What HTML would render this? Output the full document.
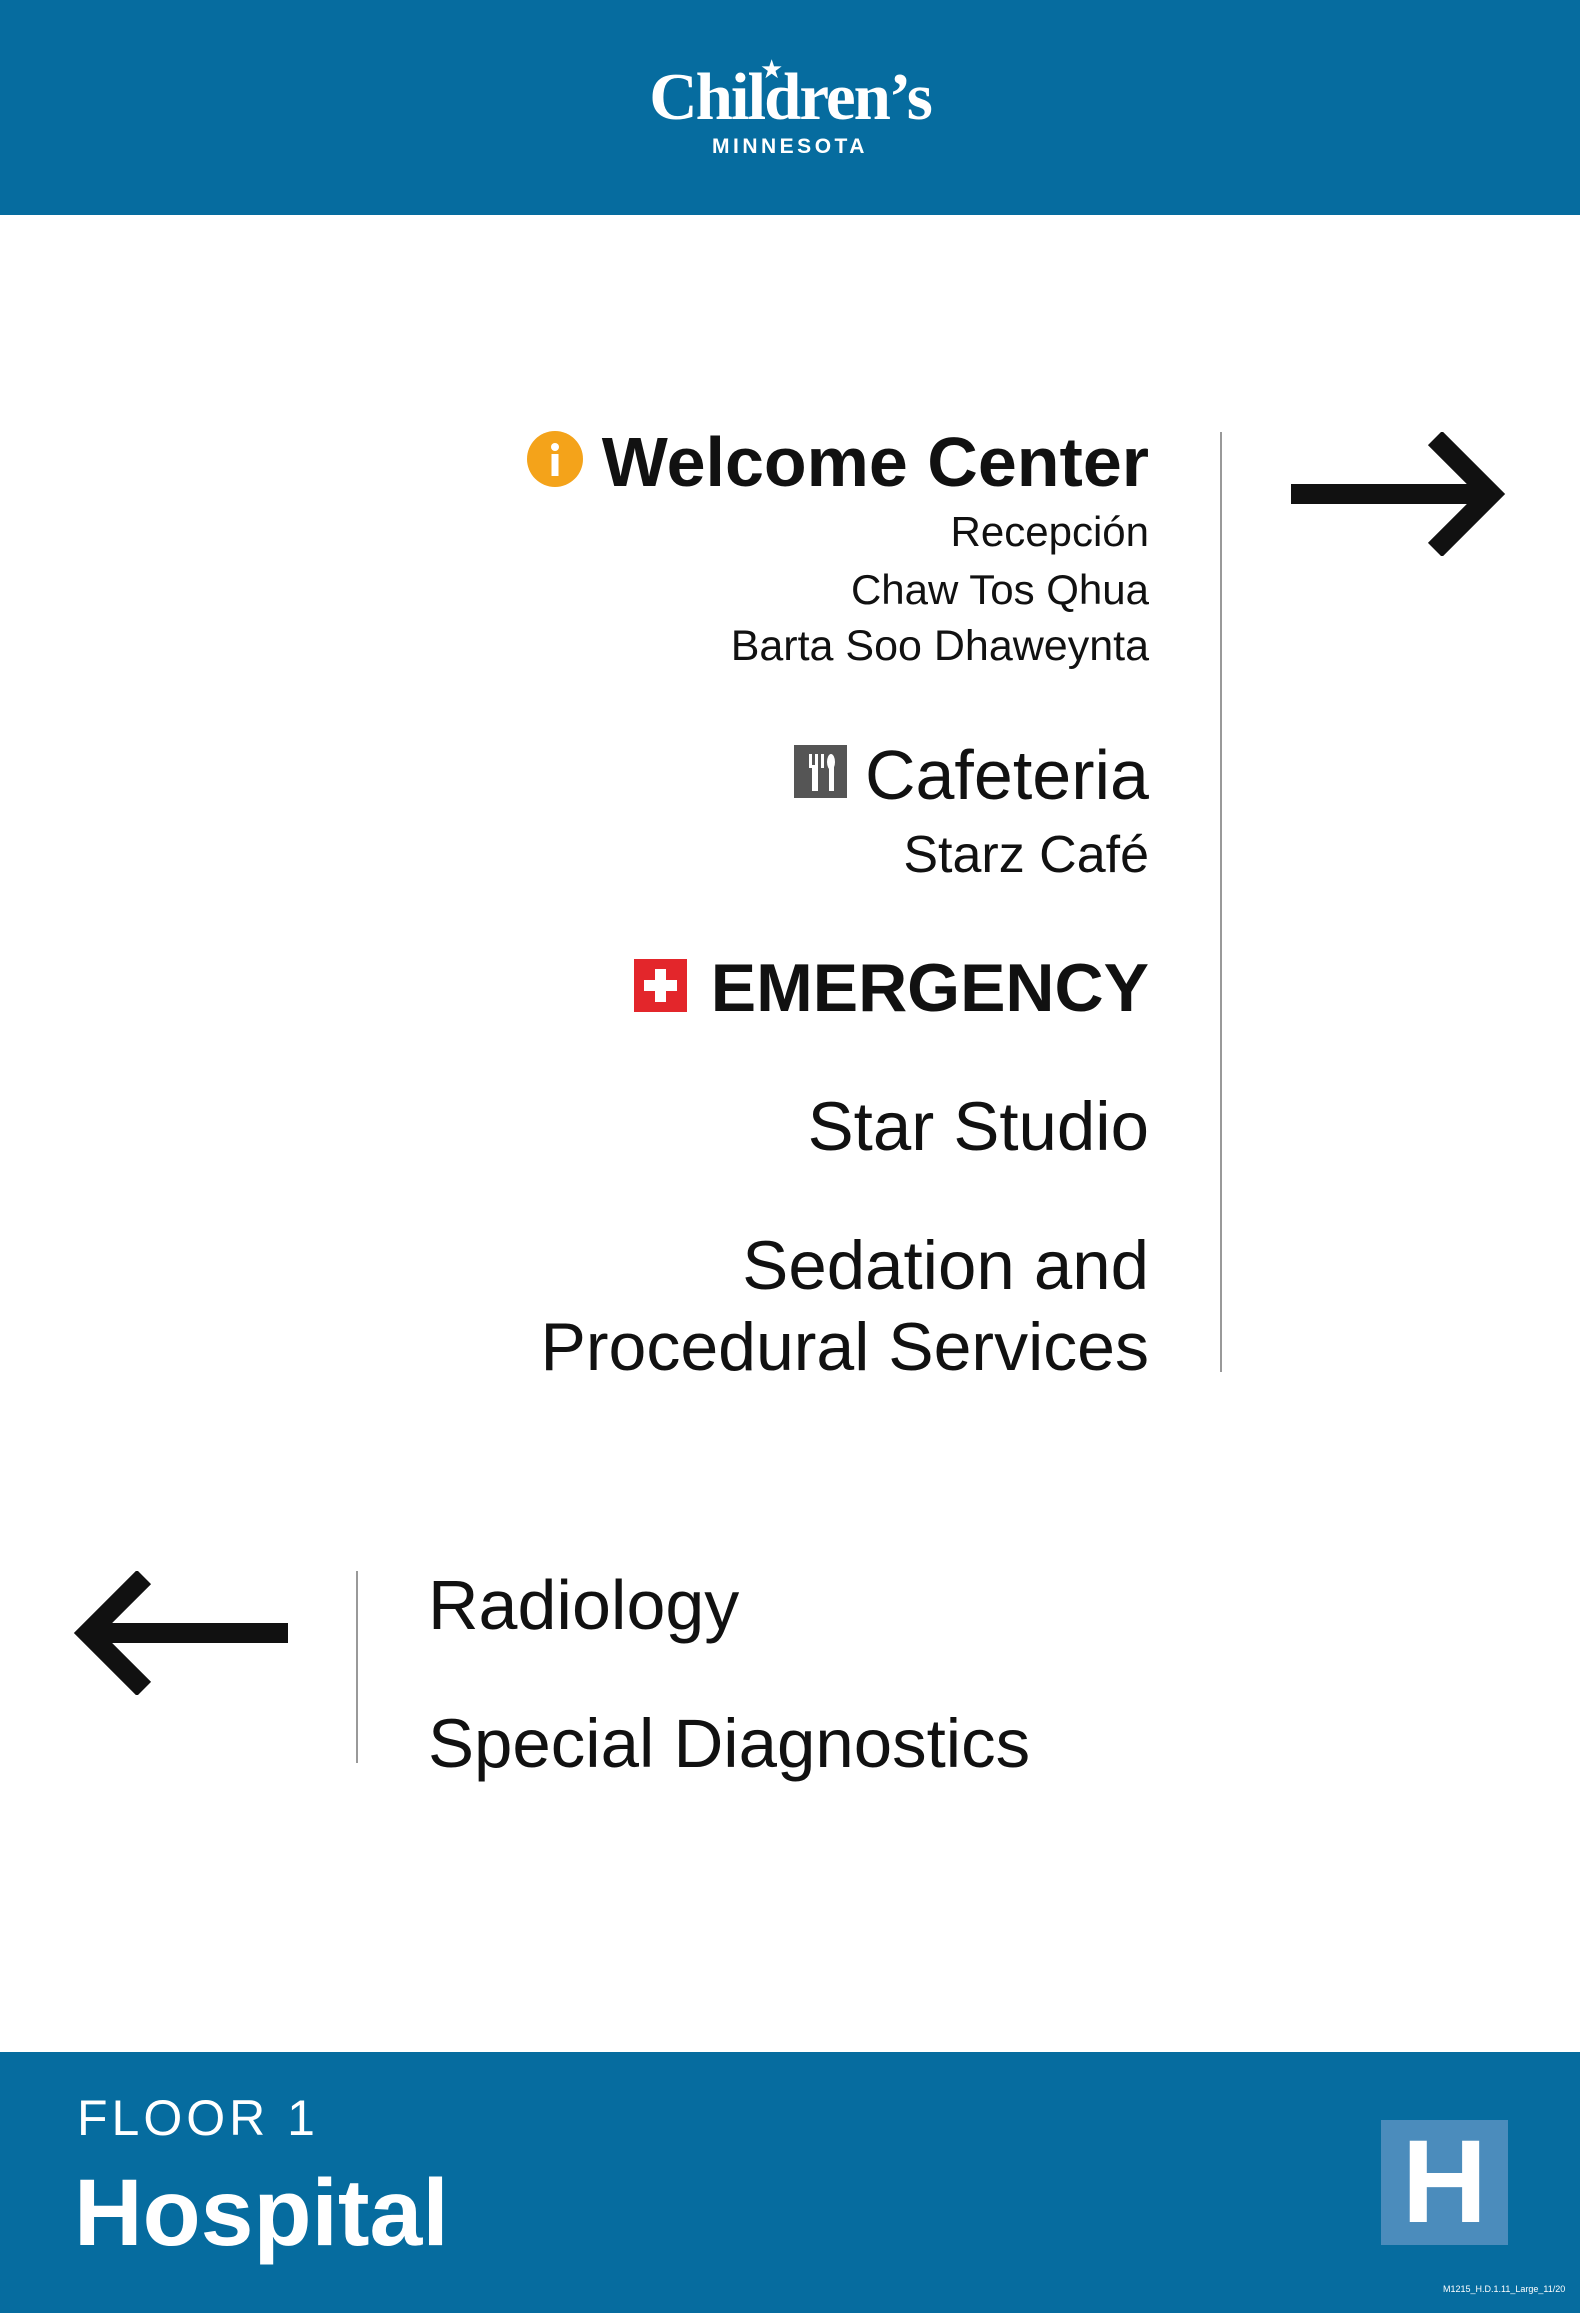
<!DOCTYPE html>
<html><head><meta charset="utf-8"><style>
html,body{margin:0;padding:0}
body{width:1580px;height:2313px;position:relative;background:#fff;font-family:"Liberation Sans",sans-serif;overflow:hidden;color:#111}
.a{position:absolute;line-height:1;white-space:nowrap}
.r{right:431px;text-align:right}
.bar{position:absolute;left:0;width:1580px;background:#066c9f}
</style></head><body>
<div class="bar" style="top:0;height:215px"></div>
<div class="a" style="left:0;width:1580px;text-align:center;top:64px;font-family:'Liberation Serif',serif;font-weight:bold;font-size:67px;color:#fff;letter-spacing:-2px">Children’s</div>
<div class="a" style="left:760px;top:56px;color:#fff;font-size:26px">★</div>
<div class="a" style="left:0;width:1580px;text-align:center;top:136px;font-weight:bold;font-size:21px;color:#fff;letter-spacing:3.5px">MINNESOTA</div>

<div class="a r" style="top:427px;font-size:70px;font-weight:bold">Welcome Center</div>
<svg class="a" style="left:527px;top:431px" width="56" height="56"><circle cx="28" cy="28" r="28" fill="#f4a31a"/><circle cx="28" cy="16" r="4" fill="#fff"/><rect x="24.5" y="23" width="7" height="22" fill="#fff"/></svg>
<div class="a r" style="top:511px;font-size:42px">Recepción</div>
<div class="a r" style="top:569px;font-size:42px">Chaw Tos Qhua</div>
<div class="a r" style="top:625px;font-size:43px">Barta Soo Dhaweynta</div>

<svg class="a" style="left:794px;top:745px" width="53" height="53"><rect width="53" height="53" fill="#555"/><rect x="15" y="9" width="3" height="14" fill="#fff"/><rect x="21" y="9" width="3" height="14" fill="#fff"/><rect x="27" y="9" width="3" height="14" fill="#fff"/><rect x="18" y="20" width="6" height="26" fill="#fff"/><ellipse cx="37" cy="17" rx="4" ry="8" fill="#fff"/><rect x="35" y="20" width="5" height="26" fill="#fff"/></svg>
<div class="a r" style="top:740px;font-size:70px">Cafeteria</div>
<div class="a r" style="top:829px;font-size:52px">Starz Café</div>

<svg class="a" style="left:634px;top:959px" width="53" height="53"><rect width="53" height="53" fill="#e3262b"/><rect x="21" y="10" width="11" height="33" fill="#fff"/><rect x="10" y="21" width="33" height="11" fill="#fff"/></svg>
<div class="a r" style="top:954px;font-size:68px;font-weight:bold">EMERGENCY</div>
<div class="a r" style="top:1092px;font-size:69px">Star Studio</div>
<div class="a r" style="top:1231px;font-size:69px">Sedation and</div>
<div class="a r" style="top:1313px;font-size:68px">Procedural Services</div>

<div class="a" style="left:1220px;top:432px;width:2px;height:940px;background:#999"></div>
<svg class="a" style="left:1291px;top:432px" width="216" height="124"><path d="M0 62H200M144 6L200 62L144 118" stroke="#111" stroke-width="20" fill="none" stroke-linejoin="miter" stroke-miterlimit="10"/></svg>

<svg class="a" style="left:72px;top:1571px" width="216" height="124"><path d="M216 62H16M72 6L16 62L72 118" stroke="#111" stroke-width="20" fill="none" stroke-linejoin="miter" stroke-miterlimit="10"/></svg>
<div class="a" style="left:356px;top:1571px;width:2px;height:192px;background:#999"></div>
<div class="a" style="left:428px;top:1570px;font-size:70px">Radiology</div>
<div class="a" style="left:428px;top:1709px;font-size:69px">Special Diagnostics</div>

<div class="bar" style="top:2052px;height:261px"></div>
<div class="a" style="left:77px;top:2093px;font-size:50px;color:#fff;letter-spacing:4px">FLOOR 1</div>
<div class="a" style="left:74px;top:2166px;font-size:95px;font-weight:bold;color:#fff">Hospital</div>
<div class="a" style="left:1381px;top:2120px;width:127px;height:125px;background:#4b8cbc;color:#fff;font-weight:bold;font-size:118px;text-align:center;line-height:125px">H</div>
<div class="a" style="left:1443px;top:2285px;font-size:9px;color:#fff">M1215_H.D.1.11_Large_11/20</div>
</body></html>
